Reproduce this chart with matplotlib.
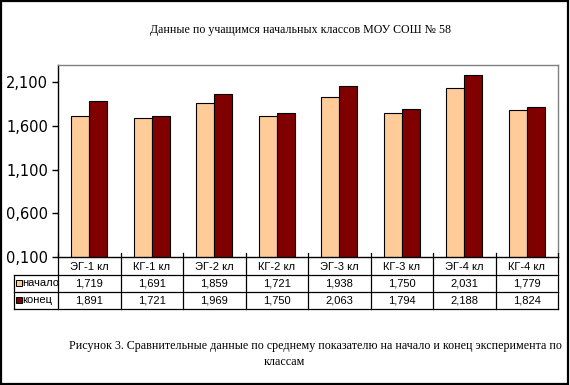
import matplotlib
matplotlib.use("Agg")
import matplotlib.pyplot as plt
from matplotlib.patches import Rectangle
from matplotlib.lines import Line2D

categories = ["ЭГ-1 кл", "КГ-1 кл", "ЭГ-2 кл", "КГ-2 кл", "ЭГ-3 кл", "КГ-3 кл", "ЭГ-4 кл", "КГ-4 кл"]
start_vals = [1.719, 1.691, 1.859, 1.721, 1.938, 1.750, 2.031, 1.779]
end_vals = [1.891, 1.721, 1.969, 1.750, 2.063, 1.794, 2.188, 1.824]
series_names = ["начало", "конец"]
yticks = [0.1, 0.6, 1.1, 1.6, 2.1]
title = "Данные по учащимся начальных классов МОУ СОШ № 58"
caption1 = "Рисунок 3. Сравнительные данные по среднему показателю на начало и конец эксперимента по"
caption2 = "классам"

W, H = 570, 385
fig = plt.figure(figsize=(W / 100, H / 100), dpi=100)

def fx(px):
    return px / W

def fy(py):
    return 1 - py / H

left, right, top, bottom = 58, 558, 65, 257
ax = fig.add_axes([fx(left), fy(bottom), fx(right - left), (bottom - top) / H])

c1, c2 = "#FFCC99", "#800000"
bw = 0.29
x = list(range(len(categories)))
ax.bar([i - bw / 2 for i in x], start_vals, width=bw, color=c1, edgecolor="black", linewidth=0.8, bottom=0)
ax.bar([i + bw / 2 for i in x], end_vals, width=bw, color=c2, edgecolor="black", linewidth=0.8, bottom=0)
ax.set_xlim(-0.5, len(categories) - 0.5)
ax.set_ylim(0.1, 2.3)
ax.set_yticks(yticks)
ax.set_yticklabels([f"{v:.3f}".replace(".", ",") for v in yticks], fontsize=10.5, family="DejaVu Sans")
ax.set_xticks([])
ax.tick_params(axis="y", length=4, width=1, direction="out", pad=3)
for s in ["top", "right"]:
    ax.spines[s].set_color("#808080")
    ax.spines[s].set_linewidth(1)
for s in ["left", "bottom"]:
    ax.spines[s].set_color("black")
    ax.spines[s].set_linewidth(1)

# data table
tfont = dict(family="Liberation Sans", fontsize=8, color="black")
colw = (right - left) / len(categories)
r0, r1, r2, r3 = bottom, 275, 291.7, 308.5
tleft = 14
lk = dict(color="black", linewidth=0.9, transform=fig.transFigure)
for k in range(len(categories) + 1):
    xx = left + k * colw
    fig.add_artist(Line2D([fx(xx), fx(xx)], [fy(r0 - 4), fy(r3)], **lk))
for yy in [r1, r2, r3]:
    fig.add_artist(Line2D([fx(tleft), fx(right)], [fy(yy), fy(yy)], **lk))
fig.add_artist(Line2D([fx(tleft), fx(tleft)], [fy(r1), fy(r3)], **lk))

for k, cat in enumerate(categories):
    cx = left + (k + 0.5) * colw
    fig.text(fx(cx), fy((r0 + r1) / 2 + 0.5), cat, ha="center", va="center", **tfont)
    fig.text(fx(cx), fy((r1 + r2) / 2), f"{start_vals[k]:.3f}".replace(".", ","), ha="center", va="center", **tfont)
    fig.text(fx(cx), fy((r2 + r3) / 2), f"{end_vals[k]:.3f}".replace(".", ","), ha="center", va="center", **tfont)

for j, (name, col) in enumerate(zip(series_names, [c1, c2])):
    yc = (r1 + r2) / 2 if j == 0 else (r2 + r3) / 2
    fig.add_artist(Rectangle((fx(15.5), fy(yc + 3)), fx(6), 6 / H, facecolor=col, edgecolor="black",
                             linewidth=0.7, transform=fig.transFigure))
    fig.text(fx(22), fy(yc), name, ha="left", va="center", **tfont)

fig.text(fx(300), fy(30), title, ha="center", va="center", family="Liberation Serif", fontsize=8.6)
fig.text(fx(315), fy(346), caption1, ha="center", va="center", family="Liberation Serif", fontsize=8.65)
fig.text(fx(284), fy(362), caption2, ha="center", va="center", family="Liberation Serif", fontsize=8.65)

fig.add_artist(Rectangle((0.001, 0.002), 0.995, 0.995, fill=False, edgecolor="black", linewidth=1.6,
                         transform=fig.transFigure))

fig.savefig("out.png", dpi=100)
